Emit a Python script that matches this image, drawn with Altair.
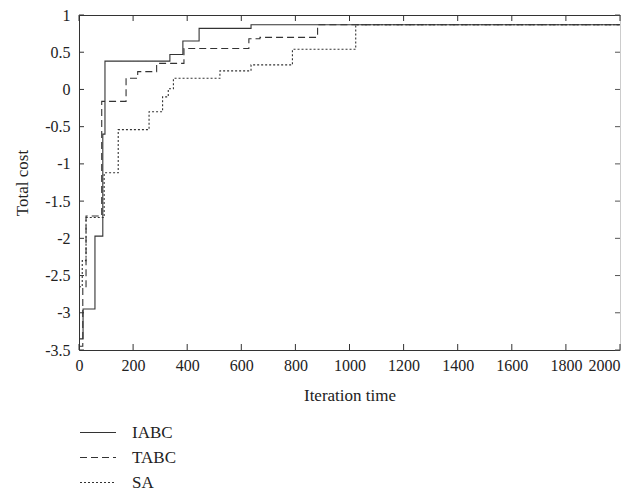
import altair as alt
import pandas as pd

# ---- data ----
series_names = ["IABC", "TABC", "SA"]

iabc_iter = [0, 15, 59, 88, 96, 336, 384, 444, 636, 2000]
iabc_cost = [-3.35, -2.95, -1.97, -0.6, 0.38, 0.47, 0.65, 0.82, 0.87, 0.87]

tabc_iter = [0, 14, 26, 84, 174, 217, 287, 388, 628, 669, 882, 2000]
tabc_cost = [-3.45, -2.65, -1.7, -0.16, 0.15, 0.24, 0.35, 0.55, 0.68, 0.70, 0.87, 0.87]

sa_iter = [0, 12, 26, 93, 145, 259, 309, 330, 349, 521, 636, 789, 1023, 2000]
sa_cost = [-2.65, -2.3, -1.72, -1.12, -0.54, -0.30, -0.10, 0.01, 0.15, 0.25, 0.33, 0.54, 0.87, 0.87]

x_ticks = [0, 200, 400, 600, 800, 1000, 1200, 1400, 1600, 1800, 2000]
y_ticks = [-3.5, -3, -2.5, -2, -1.5, -1, -0.5, 0, 0.5, 1]

rows = []
for name, xs, ys in [("IABC", iabc_iter, iabc_cost), ("TABC", tabc_iter, tabc_cost), ("SA", sa_iter, sa_cost)]:
    for xv, yv in zip(xs, ys):
        rows.append({"iter": xv, "cost": yv, "series": name})
df = pd.DataFrame(rows)
xt_df = pd.DataFrame({"t": x_ticks})
yt_df = pd.DataFrame({"t": y_ticks})

W, H = 541, 335
FONT = "Liberation Serif"
xscale = alt.Scale(domain=[0, 2000], nice=False)
yscale = alt.Scale(domain=[-3.5, 1], nice=False, zero=False)

lines = alt.Chart(df).mark_line(interpolate="step-after", color="#333333", strokeWidth=1.1).encode(
    x=alt.X("iter:Q", scale=xscale,
            axis=alt.Axis(orient="bottom", values=x_ticks, ticks=False, labelPadding=7,
                          labelFlush=False, labelOverlap=False,
                          labelAlign=alt.expr("datum.value == 2000 ? 'right' : 'center'"),
                          title="Iteration time", titlePadding=14, domainColor="#333333",
                          labelExpr="'' + datum.value")),
    y=alt.Y("cost:Q", scale=yscale,
            axis=alt.Axis(orient="left", values=y_ticks, ticks=False, labelPadding=9,
                          labelFlush=False, labelOverlap=False,
                          title="Total cost", titlePadding=13, domainColor="#333333",
                          labelExpr="'' + datum.value")),
    strokeDash=alt.StrokeDash(
        "series:N",
        sort=series_names,
        scale=alt.Scale(domain=series_names, range=[[1, 0], [7, 4], [2, 2]]),
        legend=alt.Legend(orient="none", legendX=0, legendY=405, direction="vertical",
                          title=None, symbolType="stroke", symbolSize=1296,
                          symbolStrokeColor="#333333", symbolStrokeWidth=1.2,
                          labelFont=FONT, labelFontSize=17, labelColor="#222222",
                          labelOffset=15, rowPadding=0, clipHeight=25, padding=0),
    ),
)

top_ticks = alt.Chart(xt_df).mark_rule(color="#333333", strokeWidth=1).encode(
    x=alt.X("t:Q", scale=xscale,
            axis=alt.Axis(orient="top", labels=False, ticks=False, title=None, domainColor="#333333")),
    y=alt.value(0), y2=alt.value(6),
)
bottom_ticks = alt.Chart(xt_df).mark_rule(color="#333333", strokeWidth=1).encode(
    x=alt.X("t:Q", scale=xscale, axis=None),
    y=alt.value(H), y2=alt.value(H - 6),
)
left_ticks = alt.Chart(yt_df).mark_rule(color="#333333", strokeWidth=1).encode(
    y=alt.Y("t:Q", scale=yscale, axis=None),
    x=alt.value(0), x2=alt.value(5),
)
right_ticks = alt.Chart(yt_df).mark_rule(color="#555555", strokeWidth=1).encode(
    y=alt.Y("t:Q", scale=yscale,
            axis=alt.Axis(orient="right", labels=False, ticks=False, title=None, domainColor="#cccccc")),
    x=alt.value(W - 5), x2=alt.value(W),
)

chart = alt.layer(lines, top_ticks, bottom_ticks, left_ticks, right_ticks).properties(
    width=W, height=H,
    padding={"left": 71, "top": 7, "right": 7, "bottom": 140},
    autosize=alt.AutoSizeParams(type="none"),
).configure_view(stroke=None).configure_axis(
    grid=False,
    labelFont=FONT, titleFont=FONT,
    labelFontSize=16, titleFontSize=17, titleFontWeight="normal",
    labelColor="#222222", titleColor="#222222",
)

chart.save("out.html", embed_options={"renderer": "svg", "actions": False})
